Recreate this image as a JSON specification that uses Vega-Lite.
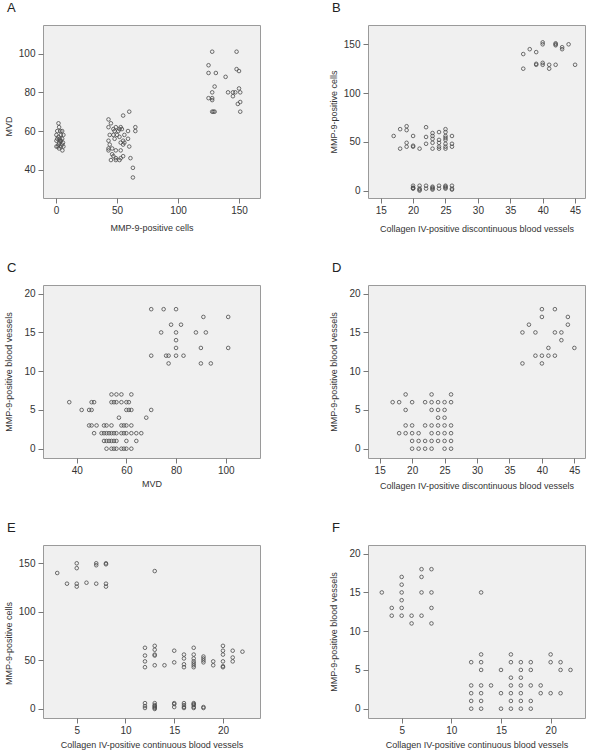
{
"$schema": "https://vega.github.io/schema/vega-lite/v6.json",
"padding": {"left": 3, "top": 1, "right": 0, "bottom": 0},
"bounds": "flush",
"columns": 2,
"spacing": {"row": 87, "column": 108},
"datasets": {
"a": [{"x":128,"y":101},{"x":148,"y":101},{"x":125,"y":94},{"x":125,"y":90},{"x":131,"y":90},{"x":148,"y":92},{"x":150,"y":91},{"x":139,"y":88},{"x":130,"y":83},{"x":150,"y":82},{"x":128,"y":80},{"x":141,"y":80},{"x":145,"y":80},{"x":147,"y":80},{"x":151,"y":80},{"x":145,"y":78},{"x":125,"y":77},{"x":128,"y":77},{"x":128,"y":76},{"x":151,"y":75},{"x":149,"y":74},{"x":128,"y":70},{"x":130,"y":70},{"x":129,"y":70},{"x":151,"y":70},
{"x":60,"y":70},{"x":55,"y":68},{"x":43,"y":66},{"x":45,"y":64},{"x":43,"y":62},{"x":49,"y":62},{"x":53,"y":62},{"x":65,"y":62},{"x":47,"y":61},{"x":52,"y":61},{"x":54,"y":61},{"x":48,"y":60},{"x":51,"y":60},{"x":59,"y":60},{"x":65,"y":60},{"x":44,"y":58},{"x":47,"y":58},{"x":50,"y":58},{"x":56,"y":58},{"x":52,"y":57},{"x":48,"y":56},{"x":59,"y":56},{"x":55,"y":55},{"x":43,"y":55},{"x":53,"y":54},{"x":56,"y":54},{"x":44,"y":53},{"x":55,"y":53},{"x":43,"y":51},{"x":46,"y":51},{"x":60,"y":52},{"x":43,"y":50},{"x":49,"y":50},{"x":53,"y":50},{"x":46,"y":48},{"x":47,"y":47},{"x":55,"y":47},{"x":49,"y":46},{"x":53,"y":46},{"x":61,"y":46},{"x":45,"y":45},{"x":49,"y":45},{"x":52,"y":45},{"x":63,"y":41},{"x":63,"y":36},
{"x":2,"y":64},{"x":2.5,"y":62},{"x":3.5,"y":60},{"x":5,"y":60},{"x":1,"y":60},{"x":0.3,"y":58},{"x":4,"y":58},{"x":6,"y":58},{"x":2,"y":57},{"x":1,"y":56},{"x":5,"y":56},{"x":3,"y":56},{"x":0.3,"y":55},{"x":3.3,"y":55},{"x":4,"y":55},{"x":2.5,"y":54},{"x":5.7,"y":54},{"x":2,"y":53},{"x":5,"y":53},{"x":0.3,"y":52},{"x":1.4,"y":52},{"x":3.8,"y":52},{"x":6,"y":52},{"x":2.5,"y":51},{"x":5.2,"y":50}],
"b": [{"x":37,"y":140},{"x":37,"y":125},{"x":38,"y":145},{"x":39,"y":142},{"x":39,"y":130},{"x":39,"y":129},{"x":40,"y":152},{"x":40,"y":150},{"x":40,"y":131},{"x":40,"y":129},{"x":41,"y":129},{"x":41,"y":125},{"x":42,"y":151},{"x":42,"y":150},{"x":42,"y":149},{"x":42,"y":129},{"x":43,"y":147},{"x":43,"y":145},{"x":44,"y":150},{"x":45,"y":129},
{"x":17,"y":56},{"x":18,"y":63},{"x":18,"y":43},{"x":19,"y":66},{"x":19,"y":62},{"x":19,"y":49},{"x":19,"y":45},{"x":20,"y":56},{"x":20,"y":46},{"x":20,"y":45},{"x":21,"y":43},{"x":22,"y":65},{"x":22,"y":55},{"x":22,"y":48},{"x":23,"y":59},{"x":23,"y":56},{"x":23,"y":53},{"x":23,"y":49},{"x":23,"y":43},{"x":24,"y":60},{"x":24,"y":52},{"x":24,"y":49},{"x":24,"y":45},{"x":24,"y":43},{"x":25,"y":63},{"x":25,"y":60},{"x":25,"y":56},{"x":25,"y":54},{"x":25,"y":52},{"x":25,"y":48},{"x":25,"y":45},{"x":25,"y":43},{"x":26,"y":56},{"x":26,"y":48},{"x":26,"y":45},
{"x":20,"y":5},{"x":20,"y":3},{"x":20,"y":2},{"x":20,"y":2.5},{"x":21,"y":5},{"x":21,"y":2},{"x":21,"y":1},{"x":21,"y":0},{"x":22,"y":5},{"x":22,"y":2},{"x":23,"y":4},{"x":23,"y":3},{"x":23,"y":2},{"x":23,"y":1},{"x":24,"y":5},{"x":24,"y":2},{"x":25,"y":5},{"x":25,"y":4},{"x":25,"y":3},{"x":25,"y":2},{"x":26,"y":5},{"x":26,"y":2},{"x":26,"y":1}],
"c": [{"x":70,"y":18},{"x":75,"y":18},{"x":80,"y":18},{"x":91,"y":17},{"x":101,"y":17},{"x":78,"y":16},{"x":82,"y":16},{"x":74,"y":15},{"x":80,"y":15},{"x":88,"y":15},{"x":92,"y":15},{"x":80,"y":14},{"x":80,"y":13},{"x":90,"y":13},{"x":101,"y":13},{"x":70,"y":12},{"x":76,"y":12},{"x":77,"y":12},{"x":80,"y":12},{"x":83,"y":12},{"x":77,"y":11},{"x":90,"y":11},{"x":94,"y":11},
{"x":54,"y":7},{"x":56,"y":7},{"x":58,"y":7},{"x":62,"y":7},
{"x":37,"y":6},{"x":46,"y":6},{"x":47,"y":6},{"x":54,"y":6},{"x":55,"y":6},{"x":56,"y":6},{"x":58,"y":6},{"x":60,"y":6},{"x":61,"y":6},
{"x":42,"y":5},{"x":45,"y":5},{"x":46,"y":5},{"x":60,"y":5},{"x":61,"y":5},{"x":62,"y":5},{"x":70,"y":5},
{"x":57,"y":4},{"x":68,"y":4},
{"x":45,"y":3},{"x":46,"y":3},{"x":48,"y":3},{"x":51,"y":3},{"x":52,"y":3},{"x":54,"y":3},{"x":58,"y":3},{"x":59,"y":3},{"x":60,"y":3},{"x":62,"y":3},
{"x":47,"y":2},{"x":50,"y":2},{"x":51,"y":2},{"x":52,"y":2},{"x":53,"y":2},{"x":54,"y":2},{"x":55,"y":2},{"x":56,"y":2},{"x":58,"y":2},{"x":59,"y":2},{"x":60,"y":2},{"x":62,"y":2},{"x":64,"y":2},{"x":66,"y":2},
{"x":51,"y":1},{"x":52,"y":1},{"x":53,"y":1},{"x":54,"y":1},{"x":55,"y":1},{"x":56,"y":1},{"x":60,"y":1},{"x":64,"y":1},
{"x":52,"y":0},{"x":54,"y":0},{"x":55,"y":0},{"x":56,"y":0},{"x":58,"y":0},{"x":59,"y":0},{"x":60,"y":0},{"x":62,"y":0}],
"d": [{"x":40,"y":18},{"x":42,"y":18},{"x":40,"y":17},{"x":44,"y":17},{"x":38,"y":16},{"x":44,"y":16},{"x":37,"y":15},{"x":39,"y":15},{"x":42,"y":15},{"x":43,"y":15},{"x":43,"y":14},{"x":41,"y":13},{"x":45,"y":13},{"x":39,"y":12},{"x":40,"y":12},{"x":41,"y":12},{"x":42,"y":12},{"x":37,"y":11},{"x":40,"y":11},
{"x":19,"y":7},{"x":23,"y":7},{"x":26,"y":7},
{"x":17,"y":6},{"x":18,"y":6},{"x":20,"y":6},{"x":22,"y":6},{"x":23,"y":6},{"x":24,"y":6},{"x":25,"y":6},{"x":26,"y":6},
{"x":19,"y":5},{"x":23,"y":5},{"x":24,"y":5},{"x":25,"y":5},
{"x":24,"y":4},{"x":25,"y":4},
{"x":19,"y":3},{"x":20,"y":3},{"x":22,"y":3},{"x":23,"y":3},{"x":24,"y":3},{"x":25,"y":3},{"x":26,"y":3},
{"x":18,"y":2},{"x":19,"y":2},{"x":20,"y":2},{"x":21,"y":2},{"x":23,"y":2},{"x":24,"y":2},{"x":25,"y":2},{"x":26,"y":2},
{"x":20,"y":1},{"x":21,"y":1},{"x":22,"y":1},{"x":23,"y":1},{"x":24,"y":1},{"x":25,"y":1},{"x":26,"y":1},
{"x":20,"y":0},{"x":21,"y":0},{"x":22,"y":0},{"x":23,"y":0},{"x":25,"y":0},{"x":26,"y":0}],
"e": [{"x":3,"y":140},{"x":4,"y":129},{"x":5,"y":150},{"x":5,"y":145},{"x":5,"y":129},{"x":5,"y":126},{"x":6,"y":130},{"x":7,"y":150},{"x":7,"y":148},{"x":7,"y":129},{"x":8,"y":150},{"x":8,"y":149},{"x":8,"y":129},{"x":8,"y":126},{"x":13,"y":142},
{"x":12,"y":63},{"x":12,"y":55},{"x":12,"y":49},{"x":12,"y":43},{"x":13,"y":65},{"x":13,"y":61},{"x":13,"y":56},{"x":13,"y":55},{"x":13,"y":45},{"x":14,"y":45},{"x":15,"y":60},{"x":15,"y":48},{"x":16,"y":56},{"x":16,"y":52},{"x":16,"y":46},{"x":16,"y":43},{"x":17,"y":63},{"x":17,"y":56},{"x":17,"y":52},{"x":17,"y":49},{"x":17,"y":47},{"x":17,"y":45},{"x":17,"y":43},{"x":18,"y":54},{"x":18,"y":52},{"x":18,"y":50},{"x":18,"y":48},{"x":19,"y":49},{"x":19,"y":45},{"x":20,"y":65},{"x":20,"y":60},{"x":20,"y":56},{"x":20,"y":49},{"x":20,"y":44},{"x":20,"y":43},{"x":21,"y":60},{"x":21,"y":53},{"x":21,"y":49},{"x":22,"y":59},
{"x":12,"y":6},{"x":12,"y":3},{"x":12,"y":1},{"x":13,"y":6},{"x":13,"y":4},{"x":13,"y":3},{"x":13,"y":2},{"x":13,"y":1},{"x":13,"y":0},{"x":15,"y":6},{"x":15,"y":5},{"x":15,"y":2},{"x":16,"y":6},{"x":16,"y":4},{"x":16,"y":2},{"x":16,"y":1},{"x":17,"y":6},{"x":17,"y":5},{"x":17,"y":4},{"x":17,"y":2},{"x":17,"y":1},{"x":18,"y":2},{"x":18,"y":1}],
"f": [{"x":3,"y":15},{"x":4,"y":13},{"x":4,"y":12},{"x":5,"y":17},{"x":5,"y":16},{"x":5,"y":15},{"x":5,"y":14},{"x":5,"y":13},{"x":5,"y":12},{"x":6,"y":12},{"x":6,"y":11},{"x":7,"y":18},{"x":7,"y":17},{"x":7,"y":15},{"x":7,"y":12},{"x":8,"y":18},{"x":8,"y":15},{"x":8,"y":13},{"x":8,"y":11},{"x":13,"y":15},
{"x":13,"y":7},{"x":16,"y":7},{"x":20,"y":7},
{"x":12,"y":6},{"x":13,"y":6},{"x":16,"y":6},{"x":17,"y":6},{"x":18,"y":6},{"x":20,"y":6},{"x":21,"y":6},
{"x":13,"y":5},{"x":15,"y":5},{"x":17,"y":5},{"x":18,"y":5},{"x":21,"y":5},{"x":22,"y":5},
{"x":16,"y":4},{"x":17,"y":4},
{"x":12,"y":3},{"x":13,"y":3},{"x":14,"y":3},{"x":16,"y":3},{"x":17,"y":3},{"x":18,"y":3},{"x":19,"y":3},
{"x":12,"y":2},{"x":13,"y":2},{"x":15,"y":2},{"x":16,"y":2},{"x":17,"y":2},{"x":19,"y":2},{"x":20,"y":2},{"x":21,"y":2},
{"x":12,"y":1},{"x":13,"y":1},{"x":16,"y":1},{"x":17,"y":1},{"x":18,"y":1},
{"x":12,"y":0},{"x":13,"y":0},{"x":15,"y":0},{"x":16,"y":0},{"x":17,"y":0},{"x":18,"y":0}]
},
"concat": [
{"width": 217, "height": 173, "title": {"text": "A", "dx": -36, "offset": 10}, "data": {"name": "a"},
 "mark": {"type": "point", "shape": "circle", "filled": false, "size": 13, "color": "#4a4a4a", "strokeWidth": 0.8, "opacity": 1},
 "encoding": {
  "x": {"field": "x", "type": "quantitative", "scale": {"domain": [-10.7, 167.2], "nice": false, "zero": false}, "axis": {"values": [0, 50, 100, 150], "title": "MMP-9-positive cells", "titlePadding": 8}},
  "y": {"field": "y", "type": "quantitative", "scale": {"domain": [25.4, 114.8], "nice": false, "zero": false}, "axis": {"values": [40, 60, 80, 100], "title": "MVD", "titleX": -30, "titleY": 101}}}},
{"width": 217, "height": 173, "title": {"text": "B", "dx": -36, "offset": 10}, "data": {"name": "b"},
 "mark": {"type": "point", "shape": "circle", "filled": false, "size": 13, "color": "#4a4a4a", "strokeWidth": 0.8, "opacity": 1},
 "encoding": {
  "x": {"field": "x", "type": "quantitative", "scale": {"domain": [13.04, 46.53], "nice": false, "zero": false}, "axis": {"values": [15, 20, 25, 30, 35, 40, 45], "title": "Collagen IV-positive discontinuous blood vessels", "titlePadding": 9}},
  "y": {"field": "y", "type": "quantitative", "scale": {"domain": [-7.6, 169.8], "nice": false, "zero": false}, "axis": {"values": [0, 50, 100, 150], "title": "MMP-9-positive cells", "titleX": -30}}}},
{"width": 217, "height": 173, "title": {"text": "C", "dx": -36, "offset": 10}, "data": {"name": "c"},
 "mark": {"type": "point", "shape": "circle", "filled": false, "size": 13, "color": "#4a4a4a", "strokeWidth": 0.8, "opacity": 1},
 "encoding": {
  "x": {"field": "x", "type": "quantitative", "scale": {"domain": [26.43, 113.8], "nice": false, "zero": false}, "axis": {"values": [40, 60, 80, 100], "title": "MVD", "titlePadding": 4}},
  "y": {"field": "y", "type": "quantitative", "scale": {"domain": [-1.2, 21.12], "nice": false, "zero": false}, "axis": {"values": [0, 5, 10, 15, 20], "title": "MMP-9-positive blood vessels", "titleX": -30}}}},
{"width": 217, "height": 173, "title": {"text": "D", "dx": -36, "offset": 10}, "data": {"name": "d"},
 "mark": {"type": "point", "shape": "circle", "filled": false, "size": 13, "color": "#4a4a4a", "strokeWidth": 0.8, "opacity": 1},
 "encoding": {
  "x": {"field": "x", "type": "quantitative", "scale": {"domain": [13.2, 46.64], "nice": false, "zero": false}, "axis": {"values": [15, 20, 25, 30, 35, 40, 45], "title": "Collagen IV-positive discontinuous blood vessels", "titlePadding": 6.5}},
  "y": {"field": "y", "type": "quantitative", "scale": {"domain": [-1.2, 21.12], "nice": false, "zero": false}, "axis": {"values": [0, 5, 10, 15, 20], "title": "MMP-9-positive blood vessels", "titleX": -30}}}},
{"width": 217, "height": 173, "title": {"text": "E", "dx": -36, "offset": 10}, "data": {"name": "e"},
 "mark": {"type": "point", "shape": "circle", "filled": false, "size": 13, "color": "#4a4a4a", "strokeWidth": 0.8, "opacity": 1},
 "encoding": {
  "x": {"field": "x", "type": "quantitative", "scale": {"domain": [1.54, 23.8], "nice": false, "zero": false}, "axis": {"values": [5, 10, 15, 20], "title": "Collagen IV-positive continuous blood vessels", "titlePadding": 5}},
  "y": {"field": "y", "type": "quantitative", "scale": {"domain": [-9.3, 168.84], "nice": false, "zero": false}, "axis": {"values": [0, 50, 100, 150], "title": "MMP-9-positive cells", "titleX": -30, "titleY": 98}}}},
{"width": 217, "height": 173, "title": {"text": "F", "dx": -36, "offset": 10}, "data": {"name": "f"},
 "mark": {"type": "point", "shape": "circle", "filled": false, "size": 13, "color": "#4a4a4a", "strokeWidth": 0.8, "opacity": 1},
 "encoding": {
  "x": {"field": "x", "type": "quantitative", "scale": {"domain": [1.61, 23.46], "nice": false, "zero": false}, "axis": {"values": [5, 10, 15, 20], "title": "Collagen IV-positive continuous blood vessels", "titlePadding": 5}},
  "y": {"field": "y", "type": "quantitative", "scale": {"domain": [-1.2, 21.12], "nice": false, "zero": false}, "axis": {"values": [0, 5, 10, 15, 20], "title": "MMP-9-positive blood vessels", "titleX": -30}}}}
],
"config": {
 "background": "white",
 "view": {"fill": "#f0f0f0", "stroke": "#9a9a9a", "strokeWidth": 1},
 "axis": {"domain": false, "grid": false, "ticks": true, "tickColor": "#777", "tickSize": 5, "labelFont": "Liberation Sans", "labelFontSize": 10, "labelColor": "#333", "labelPadding": 2, "titleFont": "Liberation Sans", "titleFontSize": 9, "titleFontWeight": "normal", "titleColor": "#333"},
 "axisY": {"labelPadding": 3},
 "title": {"font": "Liberation Sans", "fontSize": 13, "fontWeight": "normal", "anchor": "start", "frame": "group", "color": "#222"}
}
}
